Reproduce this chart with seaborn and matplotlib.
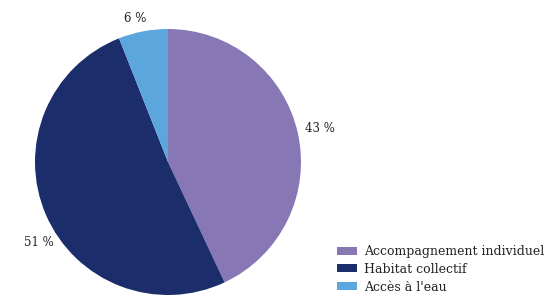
import matplotlib
matplotlib.use("Agg")
import matplotlib.pyplot as plt
import seaborn as sns
import numpy as np
from matplotlib.patches import Patch

categories = ["Accompagnement individuel", "Habitat collectif", "Accès à l'eau"]
values = [43, 51, 6]
labels = ["43 %", "51 %", "6 %"]
colors = ["#8777b5", "#1b2d6b", "#5aa6dd"]

sns.set_theme(style="white")
plt.rcParams['font.family'] = ['DejaVu Serif']

fig = plt.figure(figsize=(5.47, 2.95), dpi=100)
ax = fig.add_axes([35/547, 0.0, 266/547, 266/295])
palette = sns.color_palette(colors)
wedges, _ = ax.pie(values, colors=palette, startangle=90, counterclock=False,
                   wedgeprops=dict(linewidth=0))
ax.set_aspect('equal')
ax.set_xlim(-1, 1)
ax.set_ylim(-1, 1)

# label offsets (radius multiplier, angle tweak in degrees)
lab_r = [1.17, 1.14, 1.11]
lab_dang = [0, 8.5, 2]
for w, lab, r, da in zip(wedges, labels, lab_r, lab_dang):
    ang = np.deg2rad((w.theta1 + w.theta2) / 2 + da)
    ax.text(r * np.cos(ang), r * np.sin(ang), lab, ha='center', va='center',
            fontsize=8.5, color='#222222', clip_on=False)

handles = [Patch(facecolor=c, edgecolor='none') for c in palette]
fig.legend(handles, categories, loc='lower left', bbox_to_anchor=(332/547, -0.012),
           frameon=False, fontsize=9, handlelength=1.6, handleheight=0.6,
           handletextpad=0.6, labelspacing=0.38, borderaxespad=0,
           labelcolor='#222222')

fig.savefig("out.png", dpi=100)
